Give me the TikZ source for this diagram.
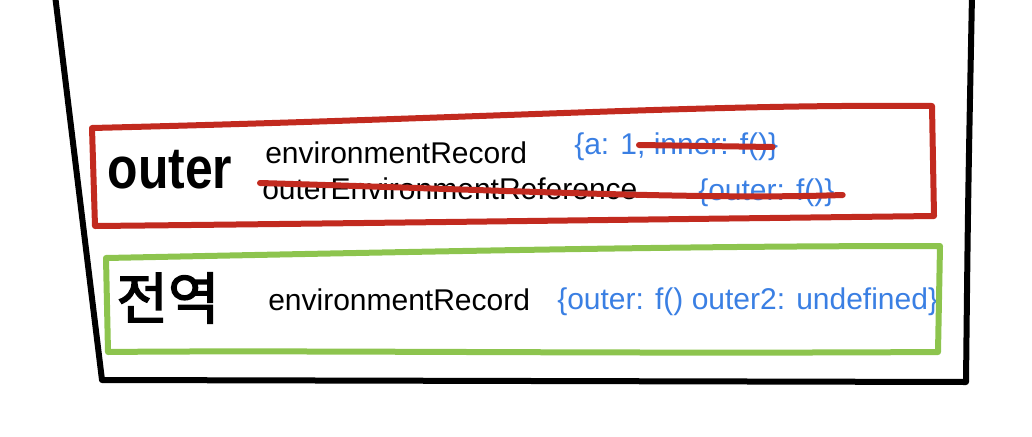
\documentclass[tikz,border=0pt]{standalone}
\usepackage{fontspec}
\setmainfont{Liberation Sans}
\newfontfamily\kofont[FakeBold=2.5]{Noto Sans CJK KR}
\usepackage{tikz}
\usetikzlibrary{calc}
\definecolor{boxred}{HTML}{C22A1F}
\definecolor{boxgreen}{HTML}{8DC44E}
\definecolor{valblue}{HTML}{3A7FE3}
\tikzset{
    pen/.style={line width=4.5pt, line cap=round, line join=round},
    field/.style={anchor=west, inner sep=0pt, font=\fontsize{22.5}{24}\selectfont},
    value/.style={field, text=valblue},
    hand/.style={anchor=center, inner sep=0pt},
}

\begin{document}
\begin{tikzpicture}[x=0.75pt, y=-0.75pt]
        \useasboundingbox (0, 0) rectangle (1032, 436);
        \coordinate (tl) at (55, -5);
        \coordinate (bl) at (102, 380);
        \coordinate (br) at (966, 382);
        \coordinate (tr) at (972, -5);

        \coordinate (r1) at (92, 128);
        \coordinate (r2) at (932, 106);
        \coordinate (r3) at (934, 216);
        \coordinate (r4) at (95, 226);

        \coordinate (g1) at (106, 258);
        \coordinate (g2) at (940, 246);
        \coordinate (g3) at (938, 352);
        \coordinate (g4) at (108, 352);

        \node[hand, xscale=0.85, font=\bfseries\fontsize{44}{46}\selectfont] (nameouter) at (170, 170) {outer};
        \node[field] (recouter) at (265, 153) {environmentRecord};
        \node[field] (refouter) at (262, 189) {outerEnvironmentReference};
        \node[value] (valouter) at (574, 147) {\{a: 1, inner: f()\}};
        \node[value] (valref) at (698, 193) {\{outer: f()\}};

        \node[hand, font=\kofont\fontsize{42}{44}\selectfont] (nameglobal) at (168, 298) {전역};
        \node[field] (recglobal) at (268, 300) {environmentRecord};
        \node[value] (valglobal) at (557, 302) {\{outer: f() outer2: undefined\}};

        \coordinate (s1) at ($(valouter.west)+(65, -2)$);
        \coordinate (s2) at ($(valouter.east)+(-6, 0)$);
        \coordinate (s3) at ($(refouter.west)+(-2, -6)$);
        \coordinate (s4) at ($(valref.east)+(8, 2)$);

        \draw[pen] (tl) .. controls (80, 200) .. (bl) -- (br) .. controls (968, 200) .. (tr);
        \draw[pen, boxred] (r1) .. controls (500, 118) and (700, 104) .. (r2) -- (r3)
            .. controls (600, 220) and (300, 224) .. (r4) -- cycle;
        \draw[pen, boxgreen] (g1) .. controls (500, 250) and (700, 246) .. (g2) -- (g3)
            .. controls (600, 354) and (300, 350) .. (g4) -- cycle;
        \draw[pen, boxred] (s1) -- (s2);
        \draw[pen, boxred] (s3) .. controls (500, 190) and (700, 200) .. (s4);
    \end{tikzpicture}
\end{document}
